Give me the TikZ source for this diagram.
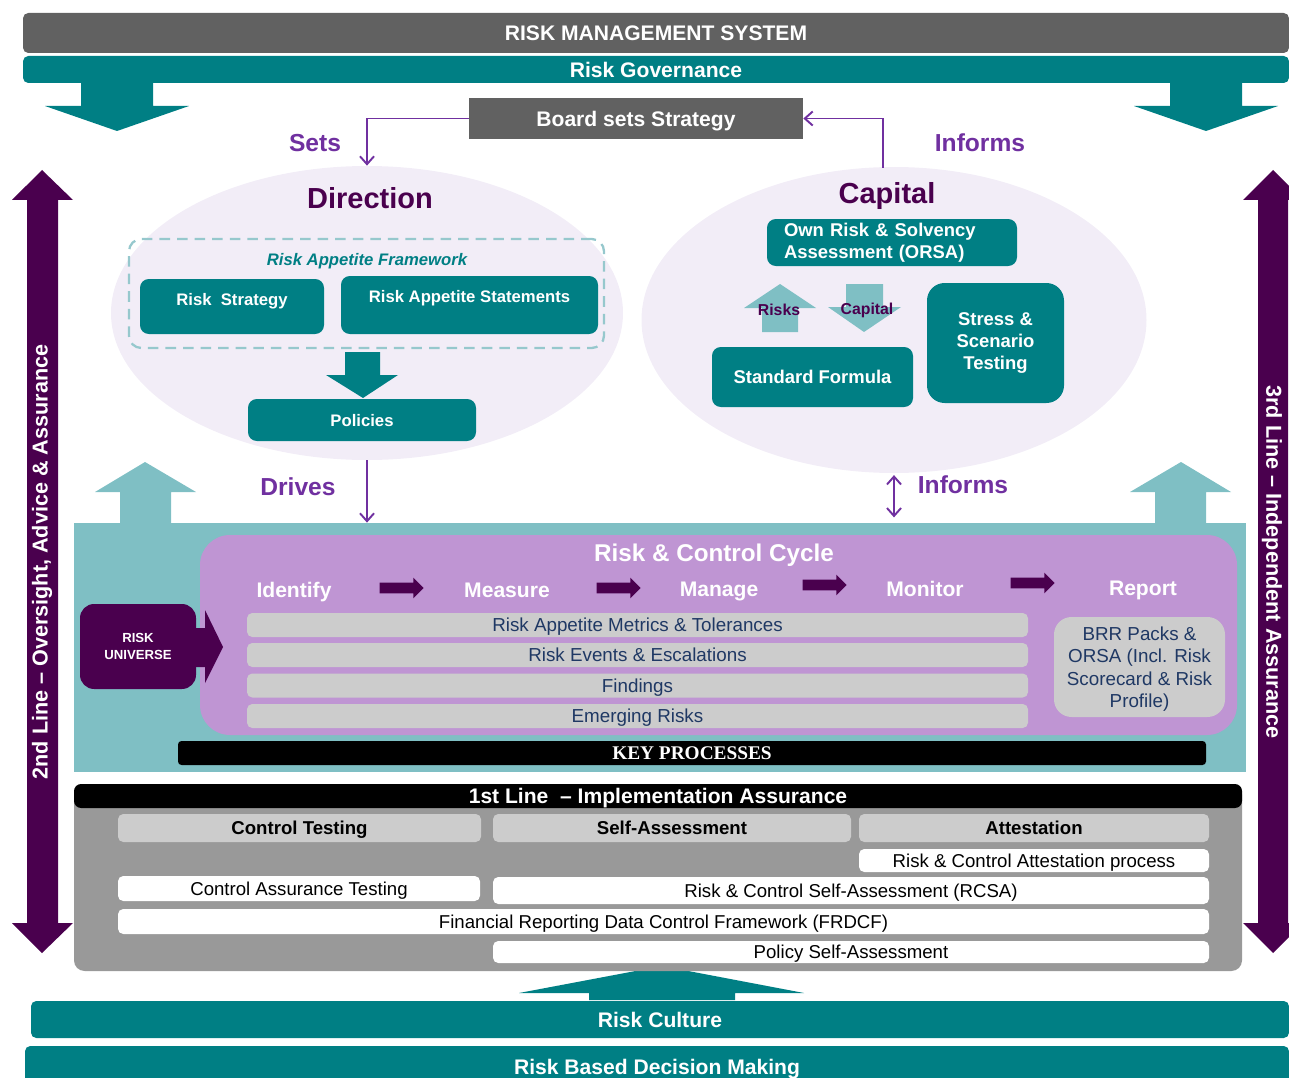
\documentclass[tikz,border=0pt]{standalone}
\usepackage{fontspec}
\setmainfont{Liberation Sans}
\newfontfamily\kpfont{Liberation Serif}
\usepackage{tikz}
\usetikzlibrary{arrows.meta,positioning,shapes.geometric,shapes.arrows}

\definecolor{rmteal}{RGB}{0,127,132}
\definecolor{rmdark}{RGB}{97,97,97}
\definecolor{rmsky}{RGB}{127,191,196}
\definecolor{rmplum}{RGB}{74,0,78}
\definecolor{rmviolet}{RGB}{112,48,160}
\definecolor{rmlavender}{RGB}{242,237,247}
\definecolor{rmorchid}{RGB}{191,149,211}
\definecolor{rmpanel}{RGB}{153,153,153}
\definecolor{rmlight}{RGB}{204,204,204}
\definecolor{rmnavy}{RGB}{31,56,100}
\definecolor{rmdash}{RGB}{150,200,205}

\tikzset{wh/.style 2 args={minimum width=#1*0.02cm, minimum height=#2*0.02cm}}
\tikzstyle{band} = [rectangle, rounded corners=3pt, fill=rmteal, text=white, inner sep=0pt, text depth=0pt, font=\bfseries\fontsize{12}{14}\selectfont]
\tikzstyle{tealbox} = [rectangle, rounded corners=5pt, fill=rmteal, text=white, inner sep=0pt, font=\bfseries\fontsize{9.5}{11}\selectfont]
\tikzstyle{capbox} = [tealbox, font=\bfseries\fontsize{10.5}{12.5}\selectfont]
\tikzstyle{zone} = [ellipse, fill=rmlavender, inner sep=0pt]
\tikzstyle{zonetitle} = [text=rmplum, font=\bfseries\fontsize{16.5}{18}\selectfont]
\tikzstyle{verb} = [text=rmviolet, font=\bfseries\fontsize{14}{16}\selectfont]
\tikzstyle{link} = [draw=rmviolet, line width=1.1pt, -{Straight Barb[length=4.5pt,width=8pt]}]
\tikzstyle{cyclestep} = [text=white, text depth=0pt, font=\bfseries\fontsize{12}{14}\selectfont]
\tikzstyle{flowarrow} = [single arrow, fill=rmplum, inner sep=0.1cm, single arrow head extend=0.1cm, minimum height=0.88cm]
\tikzstyle{graybar} = [rectangle, rounded corners=3pt, fill=rmlight, text=rmnavy, inner sep=0pt, text depth=0pt, font=\fontsize{10.7}{12.8}\selectfont]
\tikzstyle{headbox} = [rectangle, rounded corners=3pt, fill=rmlight, text=black, inner sep=0pt, text depth=0pt, font=\bfseries\fontsize{10.6}{12}\selectfont]
\tikzstyle{whitebox} = [rectangle, rounded corners=3pt, fill=white, text=black, inner sep=0pt, text depth=0pt, font=\fontsize{10.6}{12}\selectfont]
\tikzstyle{sideline} = [text=white, font=\bfseries\fontsize{12.3}{14}\selectfont]

\begin{document}
\begin{tikzpicture}[x=0.02cm, y=-0.02cm]
\useasboundingbox (0,0) rectangle (1289,1078);
\clip (0,0) rectangle (1289,1078);

% top bands
\fill[rmteal] (81,83) -- (153,83) -- (153,106) -- (189,106) -- (117,131) -- (45,106) -- (81,106) -- cycle;
\fill[rmteal] (1170,83) -- (1242,83) -- (1242,106) -- (1278,106) -- (1206,131) -- (1134,106) -- (1170,106) -- cycle;
\node (rms) [band, fill=rmdark, wh={1266}{40}] at (656,33) {RISK MANAGEMENT SYSTEM};
\node (gov) [band, wh={1266}{27}] at (656,69.5) {Risk Governance};
\node (board) [rectangle, fill=rmdark, text=white, inner sep=0pt, text depth=0pt, font=\bfseries\fontsize{12}{14}\selectfont, wh={334}{41}] at (636,118.5) {Board sets Strategy};

% direction
\node (dirzone) [zone, wh={512}{294}] at (367,313) {};
\node (dirtitle) [zonetitle] at (370,198) {Direction};
\node (raf) [rectangle, draw=rmdash, line width=1.3pt, dash pattern=on 6pt off 4pt, rounded corners=7pt, wh={475}{109}] at (366.5,293.5) {};
\node (raftitle) [text=rmteal, font=\bfseries\itshape\fontsize{9.5}{11}\selectfont] at (367,261) {Risk Appetite Framework};
\node (riskstrat) [tealbox, text depth=0.3cm, wh={184}{55}] at (232,306.5) {Risk\ \ Strategy};
\node (ras) [tealbox, text depth=0.35cm, wh={257}{58}] at (469.5,305) {Risk Appetite Statements};
\fill[rmteal] (345,352) -- (380,352) -- (380,375) -- (398,375) -- (363,398) -- (326,375) -- (345,375) -- cycle;
\node (policies) [tealbox, text depth=0pt, wh={228}{42}] at (362,420) {Policies};

% capital
\node (capzone) [zone, wh={505}{306}] at (894,320) {};
\node (captitle) [zonetitle] at (887,196) {Capital};
\node (orsa) [capbox, wh={250}{47}, text width=216*0.02cm, align=left] at (892,242.5) {Own Risk \& Solvency\\Assessment (ORSA)};
\fill[rmsky] (762,332) -- (762,308) -- (744,308) -- (780,284) -- (816,308) -- (798,308) -- (798,332) -- cycle;
\fill[rmsky] (846,284) -- (883,284) -- (883,307) -- (901,307) -- (864,332) -- (828,307) -- (846,307) -- cycle;
\node (risks) [text=rmplum, font=\bfseries\fontsize{9}{11}\selectfont] at (779,310) {Risks};
\node (capflow) [text=rmplum, font=\bfseries\fontsize{9}{11}\selectfont] at (867,310) {Capital};
\node (stdform) [capbox, text depth=0pt, wh={201}{60}] at (812.5,377) {Standard Formula};
\node (stress) [capbox, rounded corners=10pt, wh={137}{120}, align=center] at (995.5,343) {Stress \&\\Scenario\\Testing};

% key processes
\fill[rmsky] (120,523) -- (120,492) -- (95,492) -- (145,462) -- (196,492) -- (171,492) -- (171,523) -- cycle;
\fill[rmsky] (1155,523) -- (1155,492) -- (1130,492) -- (1181,462) -- (1231,492) -- (1206,492) -- (1206,523) -- cycle;
\node (keyzone) [rectangle, fill=rmsky, wh={1172}{249}] at (660,647.5) {};
\node (cycle) [rectangle, fill=rmorchid, rounded corners=0.6cm, wh={1037}{200}] at (718.5,635) {};
\node (cycletitle) [text=white, text depth=0pt, font=\bfseries\fontsize{13.8}{16}\selectfont] at (714,553) {Risk \& Control Cycle};
\node (identify) [cyclestep] at (294,590) {Identify};
\node (measure) [cyclestep] at (507,590) {Measure};
\node (manage) [cyclestep] at (719,589) {Manage};
\node (monitor) [cyclestep] at (925,589) {Monitor};
\node (report) [cyclestep] at (1143,588) {Report};
\node (f1) [flowarrow] at (399,588) {};
\node (f2) [flowarrow] at (616,588) {};
\node (f3) [flowarrow] at (822,585) {};
\node (f4) [flowarrow] at (1030,583) {};
\node (metrics) [graybar, wh={781}{24}] at (637.5,625) {Risk Appetite Metrics \& Tolerances};
\node (events) [graybar, wh={781}{24}] at (637.5,655) {Risk Events \& Escalations};
\node (findings) [graybar, wh={781}{24}] at (637.5,685.5) {Findings};
\node (emerging) [graybar, wh={781}{24}] at (637.5,716) {Emerging Risks};
\node (brr) [graybar, rounded corners=10pt, wh={171}{100}, align=center] at (1139.5,667) {BRR Packs \&\\ORSA (Incl. Risk\\Scorecard \& Risk\\Profile)};
\fill[rmplum] (190,628) -- (205,628) -- (205,610) -- (223,647) -- (205,683) -- (205,667) -- (190,667) -- cycle;
\node (universe) [rectangle, fill=rmplum, rounded corners=8pt, text=white, align=center, font=\bfseries\fontsize{7.5}{10}\selectfont, wh={116}{85}] at (138,646.5) {RISK\\UNIVERSE};
\node (keyproc) [rectangle, fill=black, rounded corners=2pt, text=white, inner sep=0pt, text depth=0pt, font=\kpfont\bfseries\fontsize{11}{13}\selectfont, wh={1028}{24}] at (692,753) {KEY PROCESSES};

% first line
\fill[rmteal] (589,1000) -- (589,993) -- (519,993) -- (662,966) -- (804,993) -- (735,993) -- (735,1000) -- cycle;
\node (panel) [rectangle, fill=rmpanel, rounded corners=6pt, wh={1168}{187}] at (658,877.5) {};
\node (firstline) [rectangle, fill=black, rounded corners=4pt, text=white, inner sep=0pt, text depth=0pt, font=\bfseries\fontsize{12}{14}\selectfont, wh={1168}{24}] at (658,796) {1st Line\ \ -- Implementation Assurance};
\node (ctest) [headbox, wh={363}{28}] at (299.5,828) {Control Testing};
\node (selfa) [headbox, wh={358}{28}] at (672,828) {Self-Assessment};
\node (attest) [headbox, wh={350}{28}] at (1034,828) {Attestation};
\node (rcap) [whitebox, wh={350}{23}] at (1034,860.5) {Risk \& Control Attestation process};
\node (cat) [whitebox, wh={362}{25}] at (299,888.5) {Control Assurance Testing};
\node (rcsa) [whitebox, wh={716}{27}] at (851,890.5) {Risk \& Control Self-Assessment (RCSA)};
\node (frdcf) [whitebox, wh={1091}{25}] at (663.5,921.5) {Financial Reporting Data Control Framework (FRDCF)};
\node (psa) [whitebox, wh={716}{22}] at (851,952) {Policy Self-Assessment};

% bottom bands
\node (culture) [band, wh={1258}{37}] at (660,1019.5) {Risk Culture};
\node (rbdm) [band, wh={1264}{42}] at (657,1067) {Risk Based Decision Making};

% lines of defence
\fill[rmplum] (27,200) -- (12,200) -- (42,170) -- (73,200) -- (58,200) -- (58,923) -- (73,923) -- (42,953) -- (12,923) -- (27,923) -- cycle;
\fill[rmplum] (1258,200) -- (1243,200) -- (1273,170) -- (1303,200) -- (1288,200) -- (1288,923) -- (1303,923) -- (1273,953) -- (1243,923) -- (1258,923) -- cycle;
\node (second) [sideline, rotate=90] at (42,562) {2nd Line -- Oversight, Advice \& Assurance};
\node (third) [sideline, rotate=-90] at (1272,562) {3rd Line -- Independent Assurance};

% connectors
\node (sets) [verb] at (315,143) {Sets};
\node (informs) [verb] at (980,143) {Informs};
\node (drives) [verb] at (298,487) {Drives};
\node (informsb) [verb] at (963,485) {Informs};
\coordinate (capin) at (883,168);
\draw[link] (board.west) -| (dirzone.north);
\draw[link] (capin) |- (board.east);
\draw[link] (dirzone.south) -- (dirzone.south |- keyzone.north);
\draw[link, {Straight Barb[length=4.5pt,width=8pt]}-{Straight Barb[length=4.5pt,width=8pt]}, shorten <=1pt, shorten >=3pt] (capzone.south) -- (capzone.south |- keyzone.north);
\end{tikzpicture}
\end{document}
